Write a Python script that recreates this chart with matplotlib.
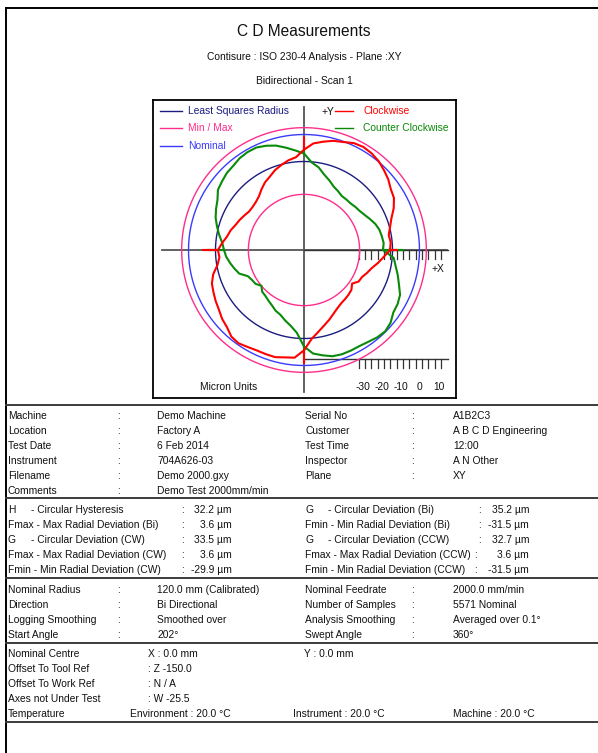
import numpy as np
import matplotlib
matplotlib.use("Agg")
import matplotlib.pyplot as plt

plt.rcParams['font.family'] = ['Liberation Sans', 'DejaVu Sans']

# ---------------- data ----------------
# radial deviation (micron) of each run, sampled every 5 degrees from +X, anticlockwise
angles_deg = np.arange(0, 360, 5)

cw_dev = [-15.5, -15.0, -15.5, -13.9, -11.8, -8.7, -6.1, -5.0, -2.9, -1.3, 0.3, 1.3,
          1.8, 1.3, -0.3, -1.3, -2.9, -4.5,
          -8.0, -11.8, -12.9, -14.5, -16.1, -18.2, -19.7, -21.8, -23.9, -25.0, -25.5, -25.5,
          -24.5, -23.4, -22.4, -20.8, -19.7, -17.6,
          -15.5, -16.1, -14.5, -11.3, -9.2, -8.2, -7.1, -6.1, -4.5, -3.4, -1.3, -0.8,
          -1.8, -2.4, -2.4, -2.4, -3.4, -3.9,
          -8.0, -13.9, -17.1, -19.7, -21.8, -23.9, -25.5, -26.6, -27.1, -27.6, -28.2, -29.9,
          -27.6, -27.1, -25.5, -23.9, -21.3, -18.7]

ccw_dev = [-19.2, -18.7, -19.2, -19.7, -20.8, -22.4, -23.9, -25.0, -25.5, -26.1, -26.1, -26.1,
           -25.0, -23.9, -21.8, -19.7, -16.6, -14.5,
           -10.0, -8.2, -6.1, -3.9, -2.4, -1.3, -1.3, -1.8, -2.9, -3.4, -4.5, -5.5,
           -8.2, -9.7, -11.3, -13.4, -15.5, -17.6,
           -18.7, -19.7, -21.3, -22.9, -24.5, -28.2, -29.2, -29.7, -31.5, -29.7, -29.2, -28.2,
           -27.1, -25.5, -24.5, -22.4, -20.3, -17.1,
           -10.0, -6.1, -4.5, -2.9, -2.4, -2.4, -2.4, -1.8, -0.8, -0.3, -1.3, -3.4,
           -3.9, -5.0, -7.6, -9.7, -11.8, -13.4]

# reversal spikes at the quadrant crossings: angle -> tip deviation (micron)
cw_spikes = {0: -12.0, 90: -1.3, 180: -7.6, 270: -1.3}
ccw_spikes = {0: -8.7, 90: -7.0, 180: -10.0, 270: -6.0}

fmin_dev, fmax_dev = -31.5, 3.6
lsq_dev = -14.2
scale_labels = [-30, -20, -10, 0, 10]

# ---------------- styling ----------------
W, H = 598, 753
R0, K = 115.5, 1.9          # plot radius of zero deviation, plot units per micron
C_RED, C_GREEN = '#ff0000', '#0a8a0a'
C_LSQ, C_MINMAX, C_NOM = '#1c1c80', '#ff2d8c', '#3a3aff'
TXT = '#111111'
FS = 7.4


def rad(d):
    return R0 + K * np.asarray(d, dtype=float)


def trace_xy(dev, spikes):
    th, rr = [], []
    for a, d in zip(angles_deg, dev):
        th.append(a); rr.append(d)
        if a in spikes:
            th += [a, a]; rr += [spikes[a], d]
    th.append(angles_deg[0]); rr.append(dev[0])
    t = np.deg2rad(th)
    r = rad(rr)
    return r * np.cos(t), r * np.sin(t)


fig = plt.figure(figsize=(W / 100, H / 100), dpi=100)
page = fig.add_axes([0, 0, 1, 1])
page.set_xlim(0, W)
page.set_ylim(H, 0)
page.axis('off')

# page frame and separators
page.plot([6, W], [8, 8], color='black', lw=1.4)
page.plot([6, 6], [8, H], color='black', lw=1.4)
for ys in [405, 498, 578, 643, 722]:
    page.plot([6, W], [ys, ys], color='#3c3c3c', lw=1.4)

# headings
page.text(304, 31, 'C D Measurements', ha='center', va='center', fontsize=11.2, color=TXT)
page.text(304, 57, 'Contisure : ISO 230-4 Analysis - Plane :XY', ha='center', va='center',
          fontsize=FS, color=TXT)
page.text(304, 81, 'Bidirectional - Scan 1', ha='center', va='center', fontsize=FS, color=TXT)


def t(x, y, s, **kw):
    page.text(x, y, s, ha=kw.pop('ha', 'left'), va='center', fontsize=FS, color=TXT, **kw)


# machine / test details
details = [("Machine", "Demo Machine", "Serial No", "A1B2C3"),
           ("Location", "Factory A", "Customer", "A B C D Engineering"),
           ("Test Date", "6 Feb 2014", "Test Time", "12:00"),
           ("Instrument", "704A626-03", "Inspector", "A N Other"),
           ("Filename", "Demo 2000.gxy", "Plane", "XY"),
           ("Comments", "Demo Test 2000mm/min", "", "")]
for i, (l1, v1, l2, v2) in enumerate(details):
    y = 416 + 15 * i
    t(8, y, l1); t(117, y, ':'); t(157, y, v1)
    if l2:
        t(305, y, l2); t(411, y, ':'); t(453, y, v2)

# analysis results
res_left = [("H", "- Circular Hysteresis", "32.2"),
            ("Fmax", "- Max Radial Deviation (Bi)", "3.6"),
            ("G", "- Circular Deviation (CW)", "33.5"),
            ("Fmax", "- Max Radial Deviation (CW)", "3.6"),
            ("Fmin", "- Min Radial Deviation (CW)", "-29.9")]
res_right = [("G", "- Circular Deviation (Bi)", "35.2"),
             ("Fmin", "- Min Radial Deviation (Bi)", "-31.5"),
             ("G", "- Circular Deviation (CCW)", "32.7"),
             ("Fmax", "- Max Radial Deviation (CCW)", "3.6"),
             ("Fmin", "- Min Radial Deviation (CCW)", "-31.5")]


def result_label(x, y, code, desc):
    # single-letter codes sit in their own column; longer codes run straight into the text
    if len(code) == 1:
        t(x, y, code); t(x + 23, y, desc)
    else:
        t(x, y, code + ' ' + desc)


for i, ((c1, d1, v1), (c2, d2, v2)) in enumerate(zip(res_left, res_right)):
    y = 510 + 15 * i
    result_label(8, y, c1, d1)
    t(181, y, ':'); t(232, y, v1 + ' µm', ha='right')
    result_label(305, y, c2, d2)
    t(478 if i < 3 else 474, y, ':'); t(529, y, v2 + ' µm', ha='right')

# test set-up
setup = [("Nominal Radius", "120.0 mm (Calibrated)", "Nominal Feedrate", "2000.0 mm/min"),
         ("Direction", "Bi Directional", "Number of Samples", "5571 Nominal"),
         ("Logging Smoothing", "Smoothed over", "Analysis Smoothing", "Averaged over 0.1°"),
         ("Start Angle", "202°", "Swept Angle", "360°")]
for i, (l1, v1, l2, v2) in enumerate(setup):
    y = 590 + 15 * i
    t(8, y, l1); t(117, y, ':'); t(157, y, v1)
    t(305, y, l2); t(411, y, ':'); t(453, y, v2)

# offsets and temperatures
t(8, 654, 'Nominal Centre'); t(148, 654, 'X : 0.0 mm'); t(304, 654, 'Y : 0.0 mm')
t(8, 669, 'Offset To Tool Ref'); t(148, 669, ': Z -150.0')
t(8, 684, 'Offset To Work Ref'); t(148, 684, ': N / A')
t(8, 699, 'Axes not Under Test'); t(148, 699, ': W -25.5')
t(8, 714, 'Temperature'); t(130, 714, 'Environment : 20.0 °C')
t(293, 714, 'Instrument : 20.0 °C'); t(453, 714, 'Machine : 20.0 °C')

# ---------------- circular plot ----------------
bx0, by0, bx1, by1 = 153, 100, 456, 398
ax = fig.add_axes([bx0 / W, 1 - by1 / H, (bx1 - bx0) / W, (by1 - by0) / H])
cx, cy = 304, 250
ax.set_xlim(bx0 - cx, bx1 - cx)
ax.set_ylim(cy - by1, cy - by0)
ax.set_xticks([]); ax.set_yticks([])
for s in ax.spines.values():
    s.set_color('black'); s.set_linewidth(1.3)
ax.patch.set_alpha(0)

# axes cross
ax.plot([0, 0], [-142, 143], color='#555555', lw=1.3, zorder=1)
ax.plot([-142, 143], [0, 0], color='#555555', lw=1.3, zorder=1)

phi = np.linspace(0, 2 * np.pi, 361)
for d, c in [(fmin_dev, C_MINMAX), (fmax_dev, C_MINMAX), (0.0, C_NOM), (lsq_dev, C_LSQ)]:
    r = rad(d)
    ax.plot(r * np.cos(phi), r * np.sin(phi), color=c, lw=1.0, zorder=2)

x, y = trace_xy(ccw_dev, ccw_spikes)
ax.plot(x, y, color=C_GREEN, lw=1.5, zorder=3)
x, y = trace_xy(cw_dev, cw_spikes)
ax.plot(x, y, color=C_RED, lw=1.5, zorder=4)

# micron scale bars on the +X axis and below the plot
ticks = np.arange(-32, 12.1, 10 / 3)
for base in [0, -109]:
    ax.plot([0, 144], [base, base], color='#333333', lw=1.0, zorder=1)
    for v in ticks:
        long = abs(v / 10 - round(v / 10)) < 0.05
        ln = 14 if long else 9
        ax.plot([rad(v), rad(v)], [base, base - ln], color='#333333', lw=0.9, zorder=1)
for v in scale_labels:
    ax.text(rad(v), -137, str(v), ha='center', va='center', fontsize=FS, color=TXT)
ax.text(-75, -137, 'Micron Units', ha='center', va='center', fontsize=FS, color=TXT)
ax.text(134, -19, '+X', ha='center', va='center', fontsize=FS, color=TXT)
ax.text(24, 138, '+Y', ha='center', va='center', fontsize=FS, color=TXT)

# legend
for yy, lab, c in [(139, 'Least Squares Radius', C_LSQ), (122, 'Min / Max', C_MINMAX),
                   (104, 'Nominal', C_NOM)]:
    ax.plot([-144, -122], [yy, yy], color=c, lw=1.0)
    ax.text(-116, yy, lab, ha='left', va='center', fontsize=FS, color=c)
for yy, lab, c in [(139, 'Clockwise', C_RED), (122, 'Counter Clockwise', C_GREEN)]:
    ax.plot([31, 49], [yy, yy], color=c, lw=1.0)
    ax.text(59, yy, lab, ha='left', va='center', fontsize=FS, color=c)

fig.savefig('out.png', dpi=100)
